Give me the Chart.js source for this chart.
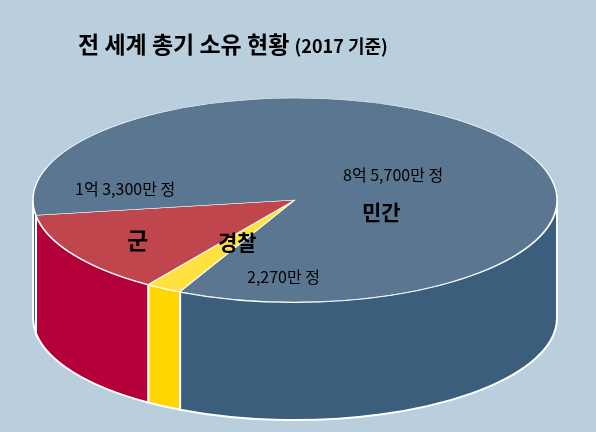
<!DOCTYPE html>
<html><head><meta charset="utf-8">
<script src="https://cdn.jsdelivr.net/npm/chart.js@4"></script>
<style>
body{margin:0;background:#B9CFDD;font-family:"Noto Sans CJK KR","Noto Sans",sans-serif;}
#wrap{position:relative;width:596px;height:432px;}
.t{position:absolute;white-space:nowrap;color:#000;}
</style></head><body>
<div id="wrap">
<canvas id="c" width="596" height="432"></canvas>
<div class="t" style="left:78px;top:26px;font-size:23px;font-weight:bold;">전 세계 총기 소유 현황 <span style="font-size:18px">(2017 기준)</span></div>
<div class="t" style="left:75px;top:176px;font-size:16px;">1억 3,300만 정</div>
<div class="t" style="left:343px;top:162px;font-size:16px;">8억 5,700만 정</div>
<div class="t" style="left:362px;top:196px;font-size:21px;font-weight:bold;">민간</div>
<div class="t" style="left:127px;top:222px;font-size:23px;font-weight:bold;">군</div>
<div class="t" style="left:218px;top:226px;font-size:21px;font-weight:bold;">경찰</div>
<div class="t" style="left:247px;top:264px;font-size:16px;">2,270만 정</div>
</div>
<script>
const categories = ["경찰", "군", "민간"];
const values = [22.7, 133, 857];
const topColors = ["#FFE13F", "#C0464E", "#5A7690"];
const sideColors = ["#FFD600", "#B3003A", "#3A5E7C"];

const CX = 295, CY = 200, RX = 262, RY = 102, DEPTH = 118;
const plugin3d = {
  id: 'pie3d',
  beforeDatasetsDraw(chart) {
    const ctx = chart.ctx;
    const arcs = chart.getDatasetMeta(0).data;
    ctx.save();
    arcs.forEach((a, i) => {
      let s = a.startAngle, e = a.endAngle;
      for (const off of [-2, 0, 2]) {
        const lo = Math.max(s, off * Math.PI), hi = Math.min(e, off * Math.PI + Math.PI);
        if (hi <= lo) continue;
        ctx.beginPath();
        ctx.ellipse(CX, CY, RX, RY, 0, lo, hi);
        ctx.ellipse(CX, CY + DEPTH, RX, RY, 0, hi, lo, true);
        ctx.closePath();
        ctx.fillStyle = sideColors[i];
        ctx.fill();
        ctx.strokeStyle = '#fff';
        ctx.lineWidth = 2;
        ctx.stroke();
      }
    });
    const a0 = arcs[0];
    const r0 = a0.outerRadius, cx0 = a0.x, cy0 = a0.y;
    ctx.translate(CX, CY);
    ctx.scale(RX / r0, RY / r0);
    ctx.translate(-cx0, -cy0);
  },
  afterDatasetsDraw(chart) { chart.ctx.restore(); }
};

new Chart(document.getElementById('c'), {
  type: 'pie',
  data: { labels: categories, datasets: [{ data: values, backgroundColor: topColors, borderColor: '#fff', borderWidth: 1.2, borderAlign: 'center' }] },
  options: {
    responsive: false, animation: false, rotation: 206,
    plugins: { legend: { display: false }, tooltip: { enabled: false }, title: { display: false } }
  },
  plugins: [plugin3d]
});
</script>
</body></html>
